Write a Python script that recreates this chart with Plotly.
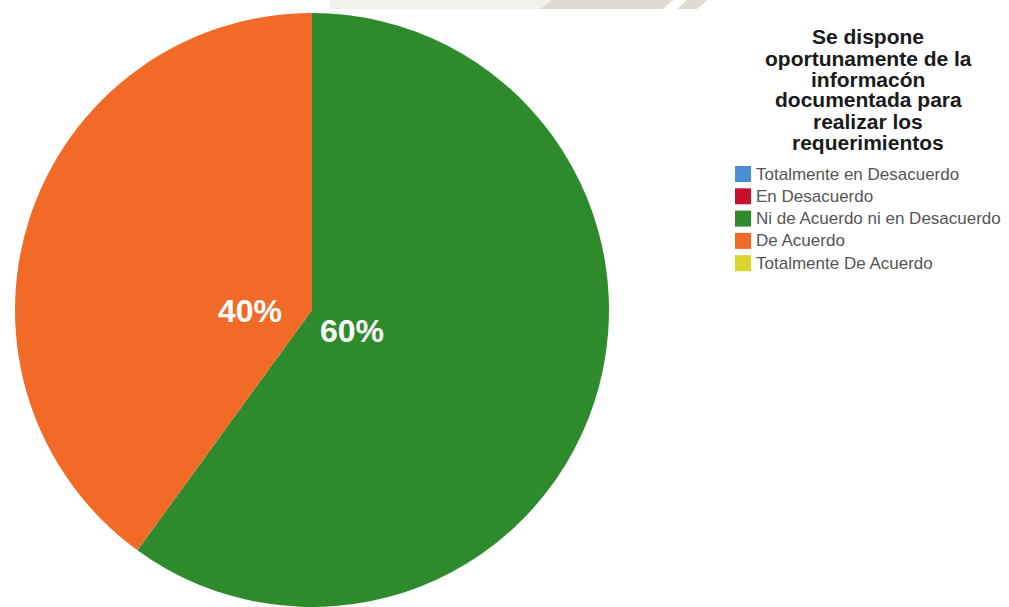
import plotly.graph_objects as go

# Survey answers and their share of responses
categories = [
    "Totalmente en Desacuerdo",
    "En Desacuerdo",
    "Ni de Acuerdo ni en Desacuerdo",
    "De Acuerdo",
    "Totalmente De Acuerdo",
]
values = [0, 0, 60, 40, 0]
colors = ["#4a8fd6", "#c8102e", "#2e8b2b", "#f26a28", "#d9d52e"]

title_lines = [
    "Se dispone",
    "oportunamente de la",
    "informacón",
    "documentada para",
    "realizar los",
    "requerimientos",
]

W, H = 1009, 607
FONT = "Liberation Sans, Arial, sans-serif"

fig = go.Figure(
    go.Pie(
        labels=categories,
        values=values,
        marker=dict(colors=colors, line=dict(width=0)),
        sort=False,
        direction="clockwise",
        rotation=0,
        textinfo="none",
        hoverinfo="label+percent",
        domain=dict(x=[15 / W, 609 / W], y=[0, (H - 13) / H]),
        showlegend=False,
    )
)


def px_x(x):
    return x / W


def px_y(y):
    return 1 - y / H


# Percentage labels placed close to the pie centre
total = sum(values)
label_pos = {2: (352, 331), 3: (250, 311)}
annotations = []
for idx, (lx, ly) in label_pos.items():
    annotations.append(
        dict(
            x=px_x(lx), y=px_y(ly), xref="paper", yref="paper",
            text=f"<b>{round(values[idx] / total * 100)}%</b>",
            showarrow=False,
            font=dict(family=FONT, size=32, color="white"),
            xanchor="center", yanchor="middle",
        )
    )

# Legend heading, one line per annotation for tight line spacing
for i, line in enumerate(title_lines):
    annotations.append(
        dict(
            x=px_x(868), y=px_y(37 + i * 21), xref="paper", yref="paper",
            text=f"<b>{line}</b>",
            showarrow=False,
            font=dict(family=FONT, size=21, color="#1a1a1a"),
            xanchor="center", yanchor="middle",
        )
    )

# Legend entries: colour square plus category name
shapes = []
row0, row_gap = 174, 22.3
for i, (name, col) in enumerate(zip(categories, colors)):
    cy = row0 + i * row_gap
    shapes.append(
        dict(type="rect", xref="paper", yref="paper",
             x0=px_x(735), x1=px_x(751), y0=px_y(cy - 8), y1=px_y(cy + 8),
             fillcolor=col, line=dict(width=0))
    )
    annotations.append(
        dict(
            x=px_x(754), y=px_y(cy), xref="paper", yref="paper",
            text=name, showarrow=False,
            font=dict(family=FONT, size=17, color="#555555"),
            xanchor="left", yanchor="middle",
        )
    )

# Faint diagonal banner along the top edge
shapes += [
    dict(type="path", xref="paper", yref="paper",
         path=f"M {px_x(330)},1 L {px_x(552)},1 L {px_x(540)},{px_y(9)} L {px_x(330)},{px_y(9)} Z",
         fillcolor="#f2f1ec", line=dict(width=0), layer="below"),
    dict(type="path", xref="paper", yref="paper",
         path=f"M {px_x(552)},1 L {px_x(673)},1 L {px_x(663)},{px_y(9)} L {px_x(540)},{px_y(9)} Z",
         fillcolor="#dedcd2", line=dict(width=0), layer="below"),
    dict(type="path", xref="paper", yref="paper",
         path=f"M {px_x(687)},1 L {px_x(707)},1 L {px_x(697)},{px_y(9)} L {px_x(677)},{px_y(9)} Z",
         fillcolor="#dedcd2", line=dict(width=0), layer="below"),
]

fig.update_layout(
    width=W,
    height=H,
    margin=dict(l=0, r=0, t=0, b=0),
    paper_bgcolor="white",
    plot_bgcolor="white",
    annotations=annotations,
    shapes=shapes,
)

fig.write_html("out.html")
